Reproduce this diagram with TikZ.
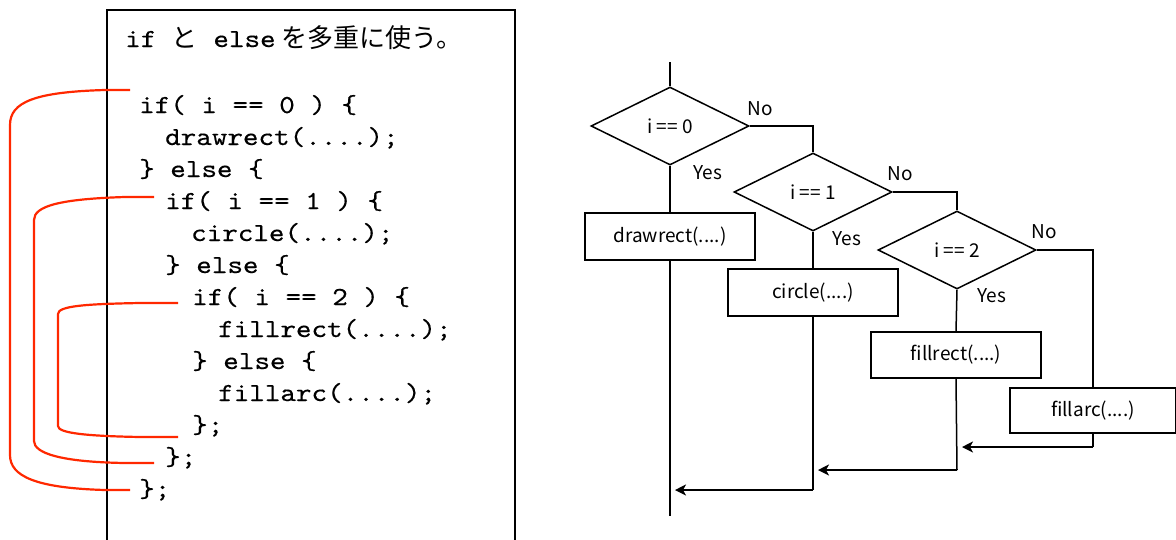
\documentclass[tikz,border=0pt]{standalone}
\usepackage{fontspec}
\usetikzlibrary{shapes.geometric,arrows.meta}
\newfontfamily\codefont[FakeBold=0.35,FakeStretch=1.14]{lmmono10-regular.otf}
\newfontfamily\jpfont{Noto Sans CJK JP}
\newfontfamily\chartfont{Noto Sans CJK JP}
\definecolor{bracered}{RGB}{255,40,0}

\begin{document}
\begin{tikzpicture}[x=1pt,y=-1pt,
  code/.style={anchor=base west, inner sep=0, font=\codefont\fontsize{26}{30}\selectfont},
  decision/.style={diamond, draw, line width=1.5pt, minimum width=158pt, minimum height=78pt,
    inner sep=0, font=\chartfont\fontsize{19}{22}\selectfont},
  action/.style={draw, line width=1.5pt, minimum width=170pt, minimum height=46pt,
    inner sep=0, font=\chartfont\fontsize{19}{22}\selectfont},
  lbl/.style={inner sep=0, font=\chartfont\fontsize{19}{22}\selectfont},
  flow/.style={line width=1.5pt},
  arr/.style={flow, -{Stealth[length=11pt,width=11pt,inset=3pt]}},
  brace/.style={draw=bracered, line width=2.2pt},
  frame/.style={line width=1.8pt}
]
\useasboundingbox (0,0) rectangle (1176,539);

% ---- code listing frame ----
\draw[frame] (107,545) -- (107,10) -- (515,10) -- (515,545);

% ---- title ----
\node[code] (title) at (125,47)
  {if {\jpfont と} else\hspace{6pt}{\jpfont を多重に使う。}};

% ---- code lines ----
\node[code] (c1)  at (139,113) {if( i == 0 ) \{};
\node[code] (c2)  at (165,145) {drawrect(....);};
\node[code] (c3)  at (139,177) {\} else \{};
\node[code] (c4)  at (165,209) {if( i == 1 ) \{};
\node[code] (c5)  at (191,241) {circle(....);};
\node[code] (c6)  at (165,273) {\} else \{};
\node[code] (c7)  at (192,305) {if( i == 2 ) \{};
\node[code] (c8)  at (218,337) {fillrect(....);};
\node[code] (c9)  at (192,369) {\} else \{};
\node[code] (c10) at (218,401) {fillarc(....);};
\node[code] (c11) at (192,433) {\};};
\node[code] (c12) at (165,465) {\};};
\node[code] (c13) at (139,497) {\};};

% ---- red brackets pairing each if with its closing brace ----
\coordinate (b1s) at (130,90);  \coordinate (b1e) at (130,490);
\coordinate (b2s) at (154,197); \coordinate (b2e) at (154,463);
\coordinate (b3s) at (178,303); \coordinate (b3e) at (178,437);
\draw[brace] (b1s) -- (105,90) .. controls (35,92) and (10,102) .. (10,125)
  -- (10,455) .. controls (10,476) and (35,488) .. (105,490) -- (b1e);
\draw[brace] (b2s) -- (125,197) .. controls (60,199) and (34,206) .. (34,220)
  -- (34,441) .. controls (34,453) and (60,462) .. (125,463) -- (b2e);
\draw[brace] (b3s) -- (140,303) .. controls (85,304) and (58,306) .. (58,314)
  -- (58,426) .. controls (58,433) and (85,436) .. (140,437) -- (b3e);

% ---- flowchart ----
\node[decision] (d1) at (670,126) {i == 0};
\node[decision] (d2) at (813,192) {i == 1};
\node[decision] (d3) at (957,250) {i == 2};

\node[action, minimum height=47pt] (a1) at (670,236.5) {drawrect(....)};
\node[action, minimum height=47pt] (a2) at (813,292.5) {circle(....)};
\node[action] (a3) at (956,355) {fillrect(....)};
\node[action, minimum width=166pt, minimum height=45pt] (a4) at (1093,410.5) {fillarc(....)};

\coordinate (start) at (670,62);
\coordinate (end) at (670,516);
\coordinate (j4) at (1093,447);
\coordinate (j3) at (957,470);
\coordinate (j2) at (813,490);

\draw[flow] (start) -- (d1.north);
\draw[flow] (d1.east) -| (d2.north);
\draw[flow] (d2.east) -| (d3.north);
\draw[flow] (d3.east) -| (a4.north);
\draw[flow] (d1.south) -- (a1.north);
\draw[flow] (d2.south) -- (a2.north);
\draw[flow] (d3.south) -- (a3.north);
\draw[flow] (a1.south) -- (end);

\draw[flow] (a4.south) -- (j4);
\draw[arr] (j4) -- ([xshift=5pt]j4 -| j3);
\draw[flow] (a3.south) -- (j3);
\draw[arr] (j3) -- ([xshift=5pt]j3 -| j2);
\draw[flow] (a2.south) -- (j2);
\draw[arr] (j2) -- ([xshift=5pt]j2 -| end);

% ---- branch labels ----
\node[lbl] (no1)  at (760,109) {No};
\node[lbl] (yes1) at (708,173) {Yes};
\node[lbl] (no2)  at (900,174) {No};
\node[lbl] (yes2) at (847,239) {Yes};
\node[lbl] (no3)  at (1044,232) {No};
\node[lbl] (yes3) at (992,296) {Yes};
\end{tikzpicture}
\end{document}
